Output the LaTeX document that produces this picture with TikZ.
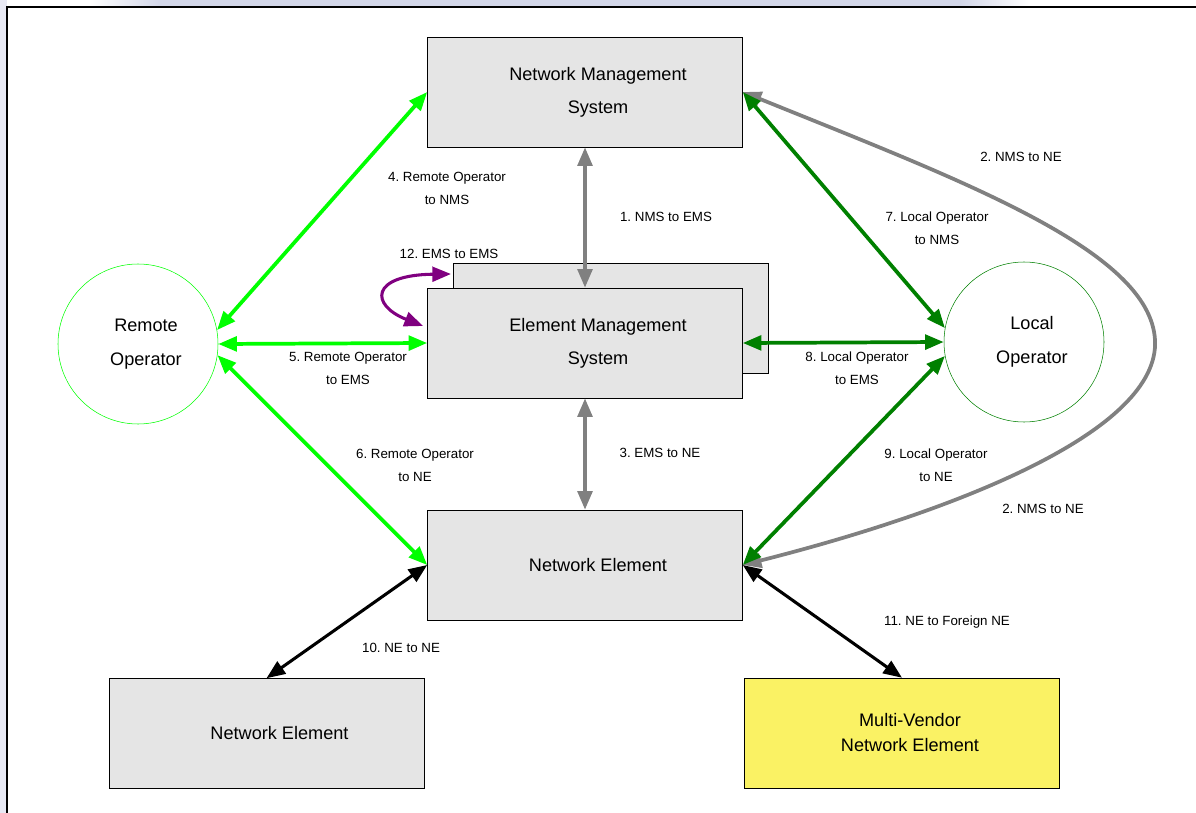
\documentclass[tikz,border=0pt]{standalone}
\usepackage{fontspec}
\setmainfont{Liberation Sans}
\usetikzlibrary{arrows.meta}
\definecolor{boxgray}{RGB}{229,229,229}
\definecolor{mvyellow}{RGB}{250,242,100}
\definecolor{remotegreen}{RGB}{0,255,0}
\definecolor{localgreen}{RGB}{0,128,0}
\definecolor{linkgray}{RGB}{128,128,128}
\definecolor{emspurple}{RGB}{128,0,128}
\definecolor{bandblue}{RGB}{210,214,232}
\definecolor{stripeblue}{RGB}{232,233,244}
\frenchspacing
\newcommand{\linklabel}[4]{%
  \node[linklabel] (#1) at (#2,#3) {#4};%
}
\newcommand{\nudge}{\hspace*{19.5pt}}
\newcommand{\smallnudge}{\hspace*{12pt}}

\begin{document}
\begin{tikzpicture}[x=0.75pt,y=-0.75pt,
  unit/.style={draw=black,fill=boxgray,minimum width=236.25pt,
    minimum height=82.5pt,inner sep=0pt,align=center,
    font=\fontsize{13.6}{24.75}\selectfont},
  operator/.style={circle,draw,thin,minimum size=120pt,inner sep=0pt,
    align=center,font=\fontsize{13.6}{25.5}\selectfont},
  linklabel/.style={align=center,inner sep=0pt,
    font=\fontsize{10}{17.25}\selectfont},
  link/.style={{Triangle[length=14pt,width=11pt]}-{Triangle[length=14pt,width=11pt]},
    line width=2.8pt}]
  \useasboundingbox (0,0) rectangle (1196,813);
  \shade[left color=white,right color=bandblue] (90,0) rectangle (160,7);
  \fill[bandblue] (160,0) rectangle (960,7);
  \shade[left color=bandblue,right color=white] (960,0) rectangle (1030,7);
  \fill[stripeblue] (0,0) rectangle (7,813);
  \draw[line width=1.5pt] (7,813) -- (7,7) -- (1196,7);

  \node[unit] (emsback) at (610.5,318) {};
  \node[unit] (nms) at (585,92) {\nudge Network Management\\\nudge System};
  \node[unit] (ems) at (585,343) {\nudge Element Management\\\nudge System};
  \node[unit] (ne) at (585,565) {\nudge Network Element};
  \node[unit] (ne2) at (266.5,733.5) {\nudge Network Element};
  \node[unit,fill=mvyellow,font=\fontsize{13.6}{18.75}\selectfont]
    (mv) at (902,733) {\smallnudge Multi-Vendor\\\smallnudge Network Element};
  \node[operator,draw=remotegreen] (rop) at (138,344)
    {\smallnudge Remote\\\smallnudge Operator};
  \node[operator,draw=localgreen] (lop) at (1024,342)
    {\smallnudge Local\\\smallnudge Operator};

  \coordinate (bend) at (1155,340);
  \coordinate (emsloopa) at (423,326);
  \coordinate (emsloopb) at (451,274);

  \draw[link,linkgray] (nms.south) -- (ems.north);
  \draw[link,linkgray] (ems.south) -- (ne.north);
  \draw[link,linkgray] (ne.east) .. controls (960,510) and (1160,430) .. (bend)
    .. controls (1150,250) and (960,180) .. (nms.east);
  \draw[link,remotegreen] (rop.10) -- (nms.west);
  \draw[link,remotegreen] (rop.east) -- (ems.west);
  \draw[link,remotegreen] (rop.-8) -- (ne.west);
  \draw[link,localgreen] (lop.170) -- (nms.east);
  \draw[link,localgreen] (lop.west) -- (ems.east);
  \draw[link,localgreen] (lop.190) -- (ne.east);
  \draw[link,black,line width=2.3pt] (ne.west) -- (ne2.north);
  \draw[link,black,line width=2.3pt] (ne.east) -- (mv.north);
  \draw[link,emspurple,line width=2.3pt] (emsloopa)
    .. controls (370,305) and (370,275) .. (emsloopb);

  \linklabel{lbla}{666}{217}{1. NMS to EMS}
  \linklabel{lblb}{1021}{157}{2. NMS to NE}
  \linklabel{lblbb}{1043}{509}{2. NMS to NE}
  \linklabel{lblc}{660}{453}{3. EMS to NE}
  \linklabel{lbld}{447}{188}{4. Remote Operator\\to NMS}
  \linklabel{lble}{348}{368}{5. Remote Operator\\to EMS}
  \linklabel{lblf}{415}{465}{6. Remote Operator\\to NE}
  \linklabel{lblg}{937}{228}{7. Local Operator\\to NMS}
  \linklabel{lblh}{857}{368}{8. Local Operator\\to EMS}
  \linklabel{lbli}{936}{465}{9. Local Operator\\to NE}
  \linklabel{lblj}{401}{648}{10. NE to NE}
  \linklabel{lblk}{947}{622}{11. NE to Foreign NE}
  \linklabel{lbll}{449}{254}{12. EMS to EMS}
\end{tikzpicture}
\end{document}
